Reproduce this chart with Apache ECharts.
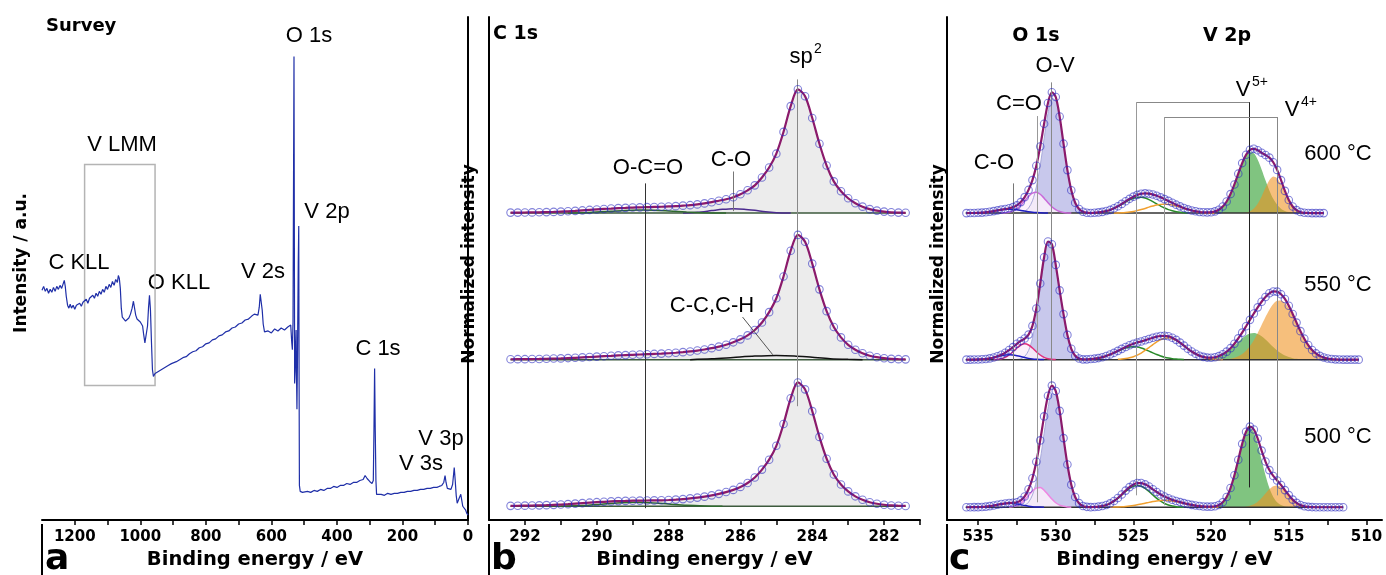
<!DOCTYPE html>
<html>
<head>
<meta charset="utf-8">
<title>XPS survey, C 1s, O 1s / V 2p</title>
<script src="https://cdn.jsdelivr.net/npm/echarts@6.0.0/dist/echarts.min.js"></script>
<style>
  html, body { margin: 0; padding: 0; background: #fff; }
  #chart { width: 1386px; height: 575px; }
</style>
</head>
<body>
<div id="chart"></div>
<script>
// ---------- data ----------
// survey spectrum: [binding energy eV, intensity]
const survey = [
  [1300,232],[1295,236],[1290,231],[1285,234],[1280,229],[1275,233],[1270,230],[1265,235],[1260,231],[1255,236],
  [1250,233],[1245,237],[1240,234],[1236,238],[1232,242],[1229,236],[1226,226],[1222,217],[1218,214],[1214,218],
  [1210,214],[1205,217],[1200,213],[1195,217],[1190,215],[1185,219],[1180,216],[1175,220],[1170,218],[1165,223],
  [1160,219],[1155,224],[1150,222],[1145,227],[1140,224],[1135,229],[1130,226],[1125,231],[1120,228],[1115,233],
  [1110,230],[1105,236],[1100,233],[1095,238],[1090,235],[1085,241],[1080,237],[1075,243],[1070,240],[1067,247],
  [1064,244],[1061,234],[1058,214],[1055,205],[1050,203],[1045,201],[1040,203],[1035,204],[1030,208],[1025,214],
  [1021,221],[1018,219],[1014,207],[1010,203],[1005,202],[1000,200],[996,201],[993,196],[990,188],[986,179],
  [982,181],[978,196],[975,214],[972,227],[969,212],[966,180],[963,152],[960,145],[955,148],[950,146],
  [945,150],[940,149],[935,152],[930,150],[925,154],[920,153],[915,156],[910,155],[905,158],[900,157],
  [890,160],[880,162],[870,164],[860,165],[850,168],[840,170],[830,171],[820,174],[810,175],[800,178],
  [790,179],[780,182],[770,183],[760,186],[750,187],[740,190],[730,191],[720,194],[710,195],[700,198],
  [690,199],[680,202],[670,203],[660,206],[652,208],[646,210],[641,207],[637,215],[634,228],[631,230],
  [628,212],[625,198],[621,190],[617,188],[610,191],[600,189],[590,193],[580,191],[570,194],[560,192],
  [550,195],[545,194],[541,197],[538,180],[536,172],[534,200],[532,380],[531,468],[530,300],[529,138],
  [527.5,150],[526,175],[524.5,192],[523.5,150],[522,112],[520.5,160],[518,260],[516.5,297],[515.5,150],[514.5,35],
  [512,29],[510,27],[505,28],[500,27],[490,29],[480,28],[470,30],[460,29],[450,31],[440,30],
  [430,32],[420,32],[410,34],[400,33],[390,35],[380,35],[370,37],[360,36],[350,38],[340,38],
  [330,40],[320,41],[314,45],[308,42],[300,39],[293,37],[289,40],[287,90],[285,153],[283,90],
  [281,40],[279,26],[275,25],[265,26],[255,25],[245,27],[235,26],[225,27],[215,27],[205,28],
  [195,28],[185,29],[175,29],[165,30],[155,30],[145,31],[135,31],[125,32],[115,32],[105,33],
  [95,33],[88,34],[80,35],[74,38],[70,45],[67,38],[63,32],[58,30],[52,31],[47,36],
  [42,53],[39,40],[36,25],[33,17],[30,18],[27,22],[22,26],[19,20],[16,14],[13,12],
  [10,15],[7,10],[4,7],[2,6],[0,5]
];

// tick values
const surveyLabels = [1200, 1000, 800, 600, 400, 200, 0];
const surveyTicks = [1200, 1100, 1000, 900, 800, 700, 600, 500, 400, 300, 200, 100, 0];
const c1sLabels = [292, 290, 288, 286, 284, 282];
const c1sTicks = [292, 291, 290, 289, 288, 287, 286, 285, 284, 283, 282, 281];
const ovLabels = [535, 530, 525, 520, 515, 510];
const ovTicks = [535, 532.5, 530, 527.5, 525, 522.5, 520, 517.5, 515, 512.5, 510];

// C 1s, measured from 292.4 eV down in 0.2 eV steps
const c1sStart = 292.4;
const c1s600 = [0.5,0.5,0.6,0.7,0.8,1.0,1.2,1.5,1.8,2.2,2.7,3.2,3.7,4.2,4.6,5.0,5.3,5.6,5.8,6.0,
  6.2,6.4,6.7,7.0,7.5,8.0,8.8,9.8,11,12.5,14,16,19,23,28,36,46,60,82,108,
  125,118,96,70,48,32,22,15,10,6.5,4,2.5,1.5,0.8,0.5,0.3];
const c1s550 = [0.4,0.5,0.5,0.6,0.7,0.9,1.1,1.3,1.6,1.9,2.3,2.7,3.1,3.5,3.9,4.3,4.6,4.9,5.2,5.5,
  5.8,6.1,6.5,7.0,7.6,8.3,9.2,10.3,11.6,13.2,15,17.5,20.5,24.5,30,37.5,48,62,84,110,
  126,119,97,71,49,33,22.5,15,10,6.5,4,2.5,1.5,0.8,0.5,0.3];
const c1s500 = [0.4,0.5,0.6,0.7,0.9,1.1,1.4,1.7,2.1,2.6,3.1,3.6,4.1,4.5,4.9,5.2,5.4,5.6,5.7,5.8,
  5.9,6.0,6.3,6.7,7.2,7.9,8.7,9.7,11,12.5,14.3,16.5,19.5,23.5,29,37,47,61,83,109,
  125,118,96,70,48,32,22,15,10,6.5,4,2.5,1.5,0.8,0.5,0.3];
// C 1s fitted minor components [eV, intensity]
const co600b = [[287.6,0],[287.2,0.8],[286.8,2.5],[286.5,3.8],[286.2,4.5],[285.9,4],[285.6,2.8],[285.3,1.3],[285.0,0.4],[284.6,0]];
const oco600b = [[290.8,0],[290.2,0.6],[289.6,1.8],[289.2,2.7],[288.8,3],[288.4,2.8],[288.0,2.1],[287.5,1.1],[287,0.4],[286.4,0]];
const cc550b = [[287.4,0],[286.8,0.8],[286.2,2.2],[285.6,3.6],[285.0,4.3],[284.5,3.8],[284.0,2.4],[283.5,1.0],[283.0,0.3],[282.6,0]];
const oco500b = [[291,0],[290.4,0.8],[289.8,2.3],[289.3,3.6],[288.9,4],[288.5,3.6],[288.0,2.3],[287.5,1],[287,0.3],[286.5,0]];

// O 1s + V 2p, measured from 535.75 eV down in 0.25 eV steps
const ovStart = 535.75;
const env600 = [0,0.1,0.1,0.3,0.5,0.8,1.4,2.0,2.7,3.5,4.1,4.9,6.0,7.8,11.1,16.1,23.4,33.3,47.8,67.3,
  90.2,111.1,122,117.2,97.6,70.1,43.4,23,10.4,4.1,1.4,0.4,0.1,0.4,0.7,1.2,2.1,3.2,4.9,6.9,
  9.3,11.9,14.4,16.6,18.4,19.5,19.9,19.6,18.7,17.5,15.9,14.1,12.3,10.4,8.5,6.8,5.1,3.8,2.6,1.8,
  1.1,0.8,0.7,0.9,1.7,3.4,6.6,11.7,19.2,28.9,39.8,50.5,58.9,63.9,64.9,63.4,60.9,58.7,56,51.3,
  43.6,33.3,22.4,13.2,6.7,3.0,1.1,0.3,0.1,0,0,0,0];
const env550 = [0,0,0.1,0.2,0.4,0.7,1.3,2.2,3.5,5.0,7.0,9.7,12.7,16,18.9,21.3,25.3,34.1,51.6,76.9,
  103.4,119.3,116.6,95.7,70,46,25,11,4,1.2,0.3,0.3,0.6,1.0,1.6,2.5,3.7,5.2,6.9,8.9,
  10.9,12.8,14.6,16,17.3,18.4,19.6,20.8,22.1,23.2,23.9,24.1,23.6,22.2,20,17.2,14.2,11,8.2,5.9,
  4.0,2.8,2.1,2.0,2.4,3.6,5.4,8.1,11.6,16.1,21.5,27.3,33.7,40.2,46.6,52.8,58.5,63.3,67.0,68.9,
  68.7,66.1,61.3,54.4,46.1,37.4,28.8,21.2,14.8,9.8,6.3,3.8,2.2,1.1,0.6,0.3,0.1,0,0,0,0,0];
const env500 = [0,0,0.1,0.1,0.3,0.6,1.1,1.7,2.5,3.2,3.8,4.2,4.5,5.0,6.9,10.9,18.1,29.3,45.9,67.5,
  91.7,112.5,122.8,117.3,97.3,69.8,43.1,22.8,10.3,4.1,1.3,0.4,0.1,0.3,0.6,1.2,2.2,3.9,6.3,9.3,
  12.9,16.8,20.3,22.9,24.4,24.4,23.1,20.9,18.1,15.4,12.9,10.8,9.0,7.6,6.3,5.2,4.1,3.2,2.4,1.7,
  1.2,0.8,0.6,0.6,1.0,2.3,5.0,10.4,19.4,32.3,48,64.0,76.2,81.4,78.5,69.3,57.2,46.1,37.5,31.6,
  27.0,22.4,17.3,12.2,7.7,4.4,2.2,1.0,0.4,0.15,0,0,0,0,0,0,0,0];

// fitted components, each starts at the energy given with it, 0.25 eV steps
const co600E = 535.5,  co600 = [0.05,0.12,0.25,0.48,0.84,1.36,2.0,2.7,3.36,3.83,4,3.83,3.36,2.7,2.0,1.36,0.84,0.48,0.25,0.12,0.05];
const cdo600E = 533.5, cdo600 = [0.1,0.3,0.9,2.2,4.4,7.9,12.3,16.9,20.1,21,19.0,15.1,10.5,6.4,3.4,1.6,0.6,0.2,0.05];
const ov600E = 532.25, ov600 = [0.5,1.8,5.1,12.4,26.3,48,75,100.6,115.6,113.8,96,69.5,43.2,22.9,10.4,4.1,1.4,0.4,0.1];
const g2p600E = 527.5, g2p600 = [0.4,0.7,1.2,2.1,3.2,4.8,6.7,8.9,11.2,13.3,14.9,15.8,15.9,15.2,13.6,11.6,9.4,7.1,5.1,3.5,2.3,1.4,0.8,0.4,0.2];
const o2p600E = 526.25, o2p600 = [0.1,0.2,0.4,0.7,1.1,1.7,2.6,3.6,4.7,6.0,7.1,8.1,8.8,9,8.8,8.1,7.1,6.0,4.7,3.6,2.6,1.7,1.1,0.7,0.4,0.2,0.1];
const v5600E = 520.5,  v5600 = [0.1,0.3,0.7,1.6,3.4,6.6,11.7,19.2,28.9,39.8,50.3,58.2,62,60.3,53.9,44.1,33.2,22.9,14.4,8.4,4.5,2.2,1.0,0.4,0.15];
const v4600E = 518.0,  v4600 = [0.2,0.7,1.9,4.6,9.5,16.8,25.5,33.1,36.9,35.2,28.8,20.2,12.2,6.3,2.8,1.1,0.34,0.1];

const co550E = 535.5,  co550 = [0.02,0.07,0.16,0.37,0.73,1.3,2.1,3.1,4.0,4.7,5,4.7,4.0,3.1,2.1,1.3,0.73,0.37,0.16,0.07];
const cdo550E = 534.0, cdo550 = [0.1,0.4,1.0,2.3,4.7,8,11.8,14.8,16,14.8,11.8,8,4.7,2.3,1.0,0.4,0.1];
const ov550E = 532.5,  ov550 = [0.24,0.95,3.2,9.2,21.6,43.2,72,101,118.3,116.2,95.6,70,46,25,11,4,1.2,0.3];
const g2p550E = 528.0, g2p550 = [0.3,0.6,1.0,1.6,2.5,3.7,5.2,6.9,8.6,10.3,11.7,12.7,13,12.7,11.7,10.3,8.6,6.9,5.2,3.7,2.5,1.6,1.0,0.6,0.3,0.15];
const o2p550E = 526.0, o2p550 = [0.3,0.6,1.1,1.9,3.0,4.6,6.7,9.3,12.2,15.2,18.0,20.2,21.6,22,21.2,19.4,16.9,14.0,11,8.2,5.8,3.9,2.5,1.5,0.9,0.5,0.25,0.1];
const v5550E = 521.0,  v5550 = [0.1,0.1,0.3,0.6,1.1,1.9,3.2,5.0,7.5,10.6,14.2,18.1,21.7,24.7,26.5,27,25.9,23.6,20.3,16.6,12.7,9.3,6.4,4.2,2.6,1.5,0.8,0.4,0.2,0.1];
const v4550E = 519.5,  v4550 = [0.1,0.3,0.6,1.0,1.9,3.4,5.6,9.0,13.7,19.6,26.9,34.9,43.0,50.4,56.2,59.4,59.7,57.1,51.8,44.6,36.6,28.4,21.0,14.7,9.8,6.3,3.8,2.2,1.1,0.6,0.3,0.1];

const co500E = 535.5,  co500 = [0.02,0.06,0.13,0.3,0.58,1.05,1.7,2.5,3.2,3.8,4,3.8,3.2,2.5,1.7,1.05,0.58,0.3,0.13,0.06];
const cdo500E = 533.0, cdo500 = [0.2,0.7,1.8,3.9,7.4,11.9,16.4,19.5,19.8,17.2,12.8,8.2,4.5,2.1,0.9,0.3,0.1];
const ov500E = 532.25, ov500 = [0.5,1.8,5.1,12.3,26.1,47.6,74.4,99.7,114.6,112.8,95.2,68.9,42.8,22.7,10.3,4.1,1.3,0.4,0.1];
const g2p500E = 527.5, g2p500 = [0.3,0.6,1.2,2.2,3.8,6.1,9.0,12.4,16,19.1,21.2,22,21.2,19.1,16,12.4,9.0,6.1,3.8,2.2,1.2,0.6,0.3,0.1];
const o2p500E = 526.5, o2p500 = [0.1,0.2,0.3,0.5,0.8,1.2,1.7,2.4,3.2,4.0,4.9,5.7,6.4,6.8,7,6.8,6.4,5.7,4.9,4.0,3.2,2.4,1.7,1.2,0.8,0.5,0.3,0.2,0.1];
const v5500E = 520.25, v5500 = [0.1,0.3,0.8,2.2,5.0,10.4,19.4,32.3,48,63.8,75.6,80,75.6,63.8,48,32.3,19.4,10.4,5.0,2.2,0.8,0.3,0.1];
const v4500E = 518.0,  v4500 = [0.2,0.6,1.4,2.9,5.5,9.2,13.8,18.1,21.2,22,20.2,16.5,11.9,7.6,4.4,2.2,1.0,0.4,0.15];

// ---------- styles ----------
const ANN = '22px "Liberation Sans", Arial, sans-serif';
const SUP = '14px "Liberation Sans", Arial, sans-serif';
const BOLD = '"DejaVu Sans", Verdana, sans-serif';
const ENV = '#8b1a6b';
const DOT = 'rgba(40,40,190,0.72)';

// spectra offsets inside the panels (stacked rows)
const rowBase = [310, 162, 13];

// ---------- helpers ----------
function pts(start, step, vals, b) {
  return vals.map((v, i) => [Math.round((start - i * step) * 100) / 100, v + b]);
}
function lift(pairs, b) {
  return pairs.map(p => [p[0], p[1] + b]);
}
function seg(x1, y1, x2, y2, color) {
  return [{ coord: [x1, y1], lineStyle: { color: color, width: 1, type: 'solid' } }, { coord: [x2, y2] }];
}
function line(data, xi, color, width, z) {
  return {
    type: 'line', xAxisIndex: xi, yAxisIndex: xi, data: data, smooth: 0.3, showSymbol: false, silent: true,
    lineStyle: { color: color, width: width }, z: z || 3
  };
}
function fill(data, xi, b, color, edge) {
  return {
    type: 'line', xAxisIndex: xi, yAxisIndex: xi, data: data, smooth: 0.3, showSymbol: false, silent: true,
    lineStyle: { color: edge || color, width: edge ? 1 : 0 },
    areaStyle: { color: color, origin: b, opacity: 1 }, z: 2
  };
}
function dots(data, xi) {
  return {
    type: 'scatter', xAxisIndex: xi, yAxisIndex: xi, data: data, symbol: 'circle', symbolSize: 7.5, silent: true,
    itemStyle: { color: 'rgba(0,0,0,0)', borderColor: DOT, borderWidth: 1.1 }, z: 5
  };
}
function baseline(x1, x2, b, xi, color, marks) {
  let s = line([[x1, b], [x2, b]], xi, color, 1.5, 3);
  s.smooth = false;
  if (marks) {
    s.markLine = { silent: true, symbol: ['none', 'none'], label: { show: false }, data: marks };
  }
  return s;
}
function xa(gi, min, max, labels, ticks) {
  return {
    type: 'value', gridIndex: gi, min: min, max: max, inverse: true,
    name: 'Binding energy / eV', nameLocation: 'middle', nameGap: 26,
    nameTextStyle: { fontFamily: BOLD, fontWeight: 'bold', fontSize: 19.5, color: '#000' },
    axisLine: { onZero: false, lineStyle: { color: '#000', width: 2 } },
    axisTick: { show: true, customValues: ticks, length: 5, lineStyle: { color: '#000', width: 1.5 } },
    axisLabel: {
      customValues: labels, margin: 10, fontFamily: BOLD, fontWeight: 'bold', fontSize: 15, color: '#000',
      formatter: v => String(v)
    },
    splitLine: { show: false }
  };
}
function ya(gi) {
  return {
    type: 'value', gridIndex: gi, min: 0, max: 508,
    axisLine: { show: true, lineStyle: { color: '#000', width: 2 } },
    axisTick: { show: false }, axisLabel: { show: false }, splitLine: { show: false }
  };
}
function txt(x, y, text, font, align, rot) {
  return {
    type: 'text', x: x, y: y, rotation: rot || 0, silent: true,
    style: { text: text, font: font || ANN, fill: '#000', align: align || 'center', verticalAlign: 'middle' }
  };
}
function vl(x, y1, y2) {
  return { type: 'line', silent: true, shape: { x1: x, y1: y1, x2: x, y2: y2 }, style: { stroke: '#000', lineWidth: 2 } };
}

// ---------- series ----------
let series = [];

// a: survey
series.push({
  type: 'line', xAxisIndex: 0, yAxisIndex: 0, data: survey, showSymbol: false, silent: true,
  lineStyle: { color: '#1f2fa8', width: 1.2 },
  markArea: {
    silent: true,
    itemStyle: { color: 'rgba(0,0,0,0)', borderColor: '#b4b4b4', borderWidth: 1.5 },
    data: [[{ coord: [1170, 359] }, { coord: [955, 136] }]]
  }
});

// b: C 1s
const c1sRows = [
  { v: c1s600, comps: [[co600b, '#4b2a8f'], [oco600b, '#2f6a2f']] },
  { v: c1s550, comps: [[cc550b, '#111111']] },
  { v: c1s500, comps: [[oco500b, '#2f6a2f']] }
];
const c1sMarks = [
  seg(288.65, 340, 288.65, 12, '#333'),
  seg(286.2, 352, 286.2, 312, '#777'),
  seg(284.42, 445, 284.42, 115, '#888'),
  seg(285.94, 205, 285.1, 167, '#555')
];
c1sRows.forEach((r, k) => {
  const b = rowBase[k] + (k === 2 ? 1 : 0);
  const d = pts(c1sStart, 0.2, r.v, b);
  series.push(fill(d, 1, b, '#ececec'));
  series.push(baseline(292.4, 281.4, b, 1, '#3d5a3d', k === 0 ? c1sMarks : null));
  r.comps.forEach(c => series.push(line(lift(c[0], b), 1, c[1], 1.5, 3)));
  series.push(line(d, 1, ENV, 2.2, 4));
  series.push(dots(d, 1));
});

// c: O 1s / V 2p
const ovRows = [
  { env: env600, end: 512.75, cdoColor: '#c96ad9',
    co: [co600E, co600], cdo: [cdo600E, cdo600], ov: [ov600E, ov600], g2: [g2p600E, g2p600], o2: [o2p600E, o2p600], v5: [v5600E, v5600], v4: [v4600E, v4600] },
  { env: env550, end: 510.5, cdoColor: '#e0307e',
    co: [co550E, co550], cdo: [cdo550E, cdo550], ov: [ov550E, ov550], g2: [g2p550E, g2p550], o2: [o2p550E, o2p550], v5: [v5550E, v5550], v4: [v4550E, v4550] },
  { env: env500, end: 511.5, cdoColor: '#ee86e2',
    co: [co500E, co500], cdo: [cdo500E, cdo500], ov: [ov500E, ov500], g2: [g2p500E, g2p500], o2: [o2p500E, o2p500], v5: [v5500E, v5500], v4: [v4500E, v4500] }
];
const ovMarks = [
  seg(532.75, 340, 532.75, 13, '#777'),
  seg(531.2, 408, 531.2, 18, '#999'),
  seg(530.3, 442, 530.3, 137, '#888'),
  seg(524.8, 422, 517.55, 422, '#888'),
  seg(524.8, 422, 524.8, 25, '#999'),
  seg(517.55, 422, 517.55, 33, '#222'),
  seg(523.0, 407, 515.75, 407, '#888'),
  seg(523.0, 407, 523.0, 15, '#999'),
  seg(515.75, 407, 515.75, 25, '#888')
];
ovRows.forEach((r, k) => {
  const b = rowBase[k];
  const d = pts(ovStart, 0.25, r.env, b);
  const c = a => pts(a[0], 0.25, a[1], b);
  series.push(fill(c(r.ov), 2, b, '#c8c8ec', '#a9aadb'));
  series.push(fill(c(r.cdo), 2, b, 'rgba(252,240,252,0.85)'));
  series.push(fill(c(r.v5), 2, b, 'rgba(50,160,50,0.62)'));
  series.push(fill(c(r.v4), 2, b, 'rgba(240,145,30,0.58)'));
  series.push(baseline(535.8, r.end, b, 2, '#333', k === 0 ? ovMarks : null));
  series.push(line(c(r.cdo), 2, r.cdoColor, 1.5, 3));
  series.push(line(c(r.co), 2, '#1f1fc0', 1.5, 3));
  series.push(line(c(r.g2), 2, '#2a8a2a', 1.5, 3));
  series.push(line(c(r.o2), 2, '#f0a030', 1.5, 3));
  series.push(line(d, 2, ENV, 2.2, 4));
  series.push(dots(d, 2));
});

// ---------- texts ----------
const YT = 'bold 17px ' + BOLD;
const graphic = [
  vl(42, 524, 575), vl(489, 524, 575), vl(947, 524, 575),
  txt(22, 263, 'Intensity / a.u.', YT, 'center', Math.PI / 2),
  txt(470, 264, 'Normalized intensity', YT, 'center', Math.PI / 2),
  txt(939, 264, 'Normalized intensity', YT, 'center', Math.PI / 2),
  txt(45, 560, 'a', 'bold 36px ' + BOLD, 'left'),
  txt(491, 560, 'b', 'bold 36px ' + BOLD, 'left'),
  txt(949, 560, 'c', 'bold 36px ' + BOLD, 'left'),
  // a
  txt(46, 26, 'Survey', 'bold 18px ' + BOLD, 'left'),
  txt(309, 36, 'O 1s'), txt(122, 145, 'V LMM'), txt(79, 263, 'C KLL'), txt(179, 283, 'O KLL'),
  txt(263, 272, 'V 2s'), txt(327, 212, 'V 2p'), txt(378, 349, 'C 1s'),
  txt(441, 439, 'V 3p'), txt(421, 464, 'V 3s'),
  // b
  txt(493, 34, 'C 1s', 'bold 19px ' + BOLD, 'left'),
  txt(801, 57, 'sp'), txt(818, 49, '2', SUP),
  txt(648, 168, 'O-C=O'), txt(731, 160, 'C-O'), txt(712, 306, 'C-C,C-H'),
  // c
  txt(1036, 36, 'O 1s', 'bold 19px ' + BOLD), txt(1227, 36, 'V 2p', 'bold 19px ' + BOLD),
  txt(1055, 66, 'O-V'), txt(1019, 104, 'C=O'), txt(994, 163, 'C-O'),
  txt(1243, 90, 'V'), txt(1260, 82, '5+', SUP),
  txt(1292, 110, 'V'), txt(1309, 102, '4+', SUP),
  txt(1338, 154, '600 °C'), txt(1338, 285, '550 °C'), txt(1338, 437, '500 °C')
];

let chart = echarts.init(document.getElementById('chart'));
let option = {
  animation: false,
  backgroundColor: '#fff',
  grid: [
    { left: 42, right: 918, top: 17, bottom: 50 },
    { left: 489, right: 466, top: 17, bottom: 50 },
    { left: 947, right: 4, top: 17, bottom: 50 }
  ],
  xAxis: [
    xa(0, 0, 1300, surveyLabels, surveyTicks),
    xa(1, 281, 293, c1sLabels, c1sTicks),
    xa(2, 509, 537, ovLabels, ovTicks)
  ],
  yAxis: [ya(0), ya(1), ya(2)],
  series: series,
  graphic: graphic
};
chart.setOption(option);
</script>
</body>
</html>
